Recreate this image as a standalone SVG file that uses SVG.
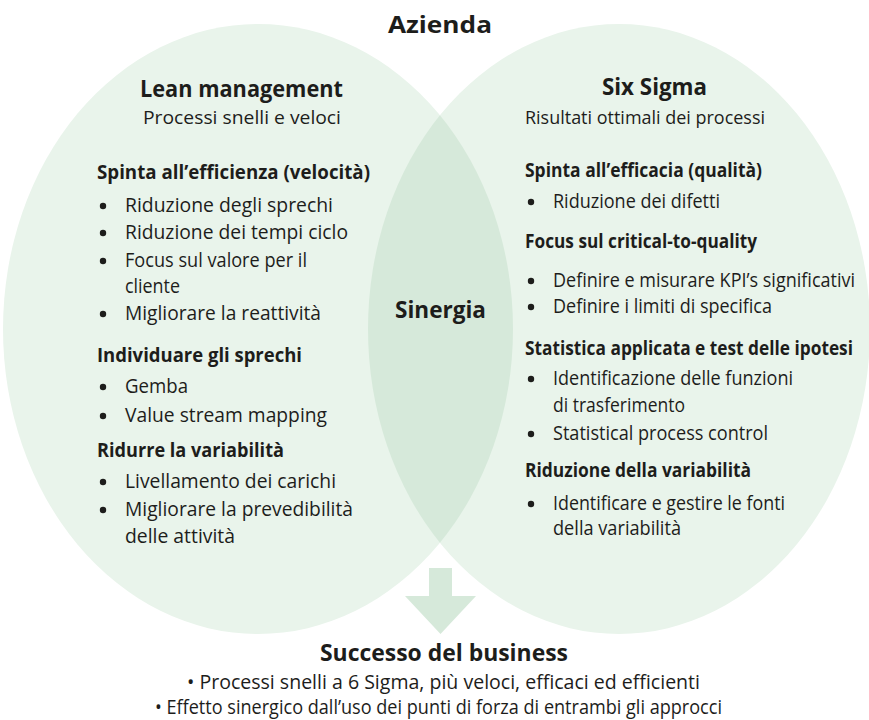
<svg xmlns="http://www.w3.org/2000/svg" width="869" height="720" viewBox="0 0 869 720">
<style>
text{font-family:"Open Sans","Noto Sans","DejaVu Sans",sans-serif;fill:#1d1d1b}
.n{font-size:19.5px}
.b{font-size:20px;font-weight:700}
.t{font-size:24px;font-weight:700}
.s{font-size:19px}
.dot{fill:#1d1d1b}
.outer{fill:#e9f4eb}
.lens{fill:#d6e9da}
</style>
<defs>
<clipPath id="clipL"><ellipse cx="258" cy="329" rx="255" ry="305"/></clipPath>
</defs>
<g id="shapes">
<ellipse class="outer" cx="258" cy="329" rx="255" ry="305"/>
<ellipse class="outer" cx="619" cy="329" rx="251" ry="305"/>
<ellipse class="lens" cx="619" cy="329" rx="251" ry="305" clip-path="url(#clipL)"/>
</g>
<g id="title">
<text class="t" x="388" y="33" font-size="25" textLength="104" lengthAdjust="spacingAndGlyphs">Azienda</text>
</g>
<g id="lean">
<text class="t" x="140" y="97" textLength="203" lengthAdjust="spacingAndGlyphs">Lean management</text>
<text class="s" x="143" y="124" textLength="198" lengthAdjust="spacingAndGlyphs">Processi snelli e veloci</text>
<text class="b" x="97" y="179" textLength="273" lengthAdjust="spacingAndGlyphs">Spinta all’efficienza (velocità)</text>
<circle class="dot" cx="103" cy="206" r="3.2"/>
<text class="n" x="125" y="212" textLength="208" lengthAdjust="spacingAndGlyphs">Riduzione degli sprechi</text>
<circle class="dot" cx="103" cy="233" r="3.2"/>
<text class="n" x="125" y="239" textLength="223" lengthAdjust="spacingAndGlyphs">Riduzione dei tempi ciclo</text>
<circle class="dot" cx="103" cy="261" r="3.2"/>
<text class="n" x="125" y="267" textLength="182" lengthAdjust="spacingAndGlyphs">Focus sul valore per il</text>
<text class="n" x="125" y="293" textLength="55" lengthAdjust="spacingAndGlyphs">cliente</text>
<circle class="dot" cx="103" cy="314" r="3.2"/>
<text class="n" x="125" y="320" textLength="196" lengthAdjust="spacingAndGlyphs">Migliorare la reattività</text>
<text class="b" x="97" y="362" textLength="205" lengthAdjust="spacingAndGlyphs">Individuare gli sprechi</text>
<circle class="dot" cx="103" cy="387" r="3.2"/>
<text class="n" x="125" y="393" textLength="63" lengthAdjust="spacingAndGlyphs">Gemba</text>
<circle class="dot" cx="103" cy="416" r="3.2"/>
<text class="n" x="125" y="422" textLength="202" lengthAdjust="spacingAndGlyphs">Value stream mapping</text>
<text class="b" x="97" y="457" textLength="187" lengthAdjust="spacingAndGlyphs">Ridurre la variabilità</text>
<circle class="dot" cx="103" cy="482" r="3.2"/>
<text class="n" x="125" y="488" textLength="211" lengthAdjust="spacingAndGlyphs">Livellamento dei carichi</text>
<circle class="dot" cx="103" cy="510" r="3.2"/>
<text class="n" x="125" y="516" textLength="228" lengthAdjust="spacingAndGlyphs">Migliorare la prevedibilità</text>
<text class="n" x="125" y="543" textLength="110" lengthAdjust="spacingAndGlyphs">delle attività</text>
</g>
<g id="sixsigma">
<text class="t" x="602" y="95" textLength="105" lengthAdjust="spacingAndGlyphs">Six Sigma</text>
<text class="s" x="525" y="124" textLength="240" lengthAdjust="spacingAndGlyphs">Risultati ottimali dei processi</text>
<text class="b" x="525" y="177" textLength="237" lengthAdjust="spacingAndGlyphs">Spinta all’efficacia (qualità)</text>
<circle class="dot" cx="531" cy="202" r="3.2"/>
<text class="n" x="553" y="208" textLength="167" lengthAdjust="spacingAndGlyphs">Riduzione dei difetti</text>
<text class="b" x="525" y="248" textLength="232" lengthAdjust="spacingAndGlyphs">Focus sul critical-to-quality</text>
<circle class="dot" cx="531" cy="281" r="3.2"/>
<text class="n" x="553" y="287" textLength="302" lengthAdjust="spacingAndGlyphs">Definire e misurare KPI’s significativi</text>
<circle class="dot" cx="531" cy="307" r="3.2"/>
<text class="n" x="553" y="313" textLength="219" lengthAdjust="spacingAndGlyphs">Definire i limiti di specifica</text>
<text class="b" x="525" y="355" textLength="328" lengthAdjust="spacingAndGlyphs">Statistica applicata e test delle ipotesi</text>
<circle class="dot" cx="531" cy="379" r="3.2"/>
<text class="n" x="553" y="385" textLength="240" lengthAdjust="spacingAndGlyphs">Identificazione delle funzioni</text>
<text class="n" x="553" y="412" textLength="132" lengthAdjust="spacingAndGlyphs">di trasferimento</text>
<circle class="dot" cx="531" cy="434" r="3.2"/>
<text class="n" x="553" y="440" textLength="215" lengthAdjust="spacingAndGlyphs">Statistical process control</text>
<text class="b" x="525" y="477" textLength="226" lengthAdjust="spacingAndGlyphs">Riduzione della variabilità</text>
<circle class="dot" cx="531" cy="504" r="3.2"/>
<text class="n" x="553" y="510" textLength="232" lengthAdjust="spacingAndGlyphs">Identificare e gestire le fonti</text>
<text class="n" x="553" y="535" textLength="128" lengthAdjust="spacingAndGlyphs">della variabilità</text>
</g>
<g id="sinergia">
<text class="t" x="395" y="318" font-size="23" textLength="91" lengthAdjust="spacingAndGlyphs">Sinergia</text>
</g>
<g id="connectors">
<polygon class="lens" points="429,568 452,568 452,596 476,596 440.5,634 405,596 429,596"/>
</g>
<g id="successo">
<text class="t" x="320" y="661" textLength="248" lengthAdjust="spacingAndGlyphs">Successo del business</text>
<text class="n" x="187" y="689" textLength="513" lengthAdjust="spacingAndGlyphs">• Processi snelli a 6 Sigma, più veloci, efficaci ed efficienti</text>
<text class="n" x="155" y="714" textLength="567" lengthAdjust="spacingAndGlyphs">• Effetto sinergico dall’uso dei punti di forza di entrambi gli approcci</text>
</g>
</svg>
